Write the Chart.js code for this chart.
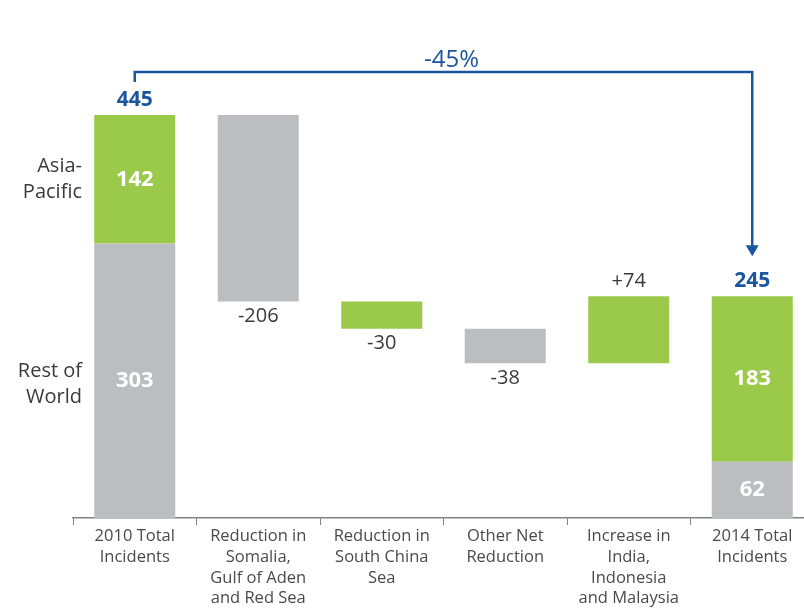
<!DOCTYPE html>
<html>
<head>
<meta charset="utf-8">
<script src="https://cdn.jsdelivr.net/npm/chart.js@4/dist/chart.umd.min.js"></script>
<style>
  html, body { margin: 0; padding: 0; background: #ffffff; overflow: hidden; }
  #wrap { width: 804px; height: 608px; overflow: hidden; position: relative; }
  canvas { display: block; }
</style>
</head>
<body>
<div id="wrap"><canvas id="c" width="814" height="608" style="width:814px;height:608px"></canvas></div>
<script>
// ---- Data ----
const categories = [
  ["2010 Total", "Incidents"],
  ["Reduction in", "Somalia,", "Gulf of Aden", "and Red Sea"],
  ["Reduction in", "South China", "Sea"],
  ["Other Net", "Reduction"],
  ["Increase in", "India,", "Indonesia", "and Malaysia"],
  ["2014 Total", "Incidents"]
];
const restOfWorld2010 = 303;
const asiaPacific2010 = 142;
const restOfWorld2014 = 62;
const asiaPacific2014 = 183;
const changes = [-206, -30, -38, 74];
const changeRegion = ["row", "ap", "row", "ap"];
const regionLabels = { ap: ["Asia-", "Pacific"], row: ["Rest of", "World"] };

// ---- Build floating bars ----
const GREEN = "#9BCA4B";
const GRAY = "#BCBDC0";
const BLUE = "#1B559E";
const TEXT = "#3a3a3a";

const total2010 = restOfWorld2010 + asiaPacific2010;
const total2014 = restOfWorld2014 + asiaPacific2014;
const grayData = [[0, restOfWorld2010]];
const greenData = [[restOfWorld2010, total2010]];
let running = total2010;
changes.forEach((c, i) => {
  const lo = Math.min(running, running + c), hi = Math.max(running, running + c);
  if (changeRegion[i] === "row") { grayData.push([lo, hi]); greenData.push(null); }
  else { greenData.push([lo, hi]); grayData.push(null); }
  running += c;
});
grayData.push([0, restOfWorld2014]);
greenData.push([restOfWorld2014, total2014]);

const FONT = "'Open Sans', 'Noto Sans', sans-serif";

const labelPlugin = {
  id: "labels",
  afterDatasetsDraw(chart) {
    const ctx = chart.ctx;
    const x = chart.scales.x, y = chart.scales.y;
    ctx.save();
    ctx.textAlign = "center";
    ctx.textBaseline = "middle";
    const n = categories.length;
    // inner segment labels
    ctx.fillStyle = "#ffffff";
    ctx.font = "bold 22px " + FONT;
    const seg = (i, lo, hi, v) => {
      ctx.fillText(String(v), x.getPixelForValue(i), (y.getPixelForValue(lo) + y.getPixelForValue(hi)) / 2);
    };
    seg(0, restOfWorld2010, total2010, asiaPacific2010);
    seg(0, 0, restOfWorld2010, restOfWorld2010);
    seg(n - 1, restOfWorld2014, total2014, asiaPacific2014);
    seg(n - 1, 0, restOfWorld2014, restOfWorld2014);
    // totals
    ctx.fillStyle = BLUE;
    ctx.font = "bold 21px " + FONT;
    ctx.fillText(String(total2010), x.getPixelForValue(0), y.getPixelForValue(total2010) - 15);
    ctx.fillText(String(total2014), x.getPixelForValue(n - 1), y.getPixelForValue(total2014) - 15);
    // change labels
    ctx.fillStyle = TEXT;
    ctx.font = "20px " + FONT;
    let r = total2010;
    changes.forEach((c, i) => {
      const xi = x.getPixelForValue(i + 1);
      const txt = (c > 0 ? "+" : "") + c;
      if (c < 0) ctx.fillText(txt, xi, y.getPixelForValue(r + c) + 15);
      else ctx.fillText(txt, xi, y.getPixelForValue(r + c) - 15);
      r += c;
    });
    // left region labels
    ctx.textAlign = "right";
    ctx.font = "20px " + FONT;
    const apMid = (y.getPixelForValue(restOfWorld2010) + y.getPixelForValue(total2010)) / 2;
    const rowMid = (y.getPixelForValue(0) + y.getPixelForValue(restOfWorld2010)) / 2 + 3;
    const lx = x.left + 9;
    ctx.fillText(regionLabels.ap[0], lx, apMid - 13);
    ctx.fillText(regionLabels.ap[1], lx, apMid + 13);
    ctx.fillText(regionLabels.row[0], lx, rowMid - 13);
    ctx.fillText(regionLabels.row[1], lx, rowMid + 13);

    // bracket with arrow
    const x0 = x.getPixelForValue(0), x1 = x.getPixelForValue(n - 1);
    const top0 = y.getPixelForValue(total2010);
    const by = top0 - 43;
    const tipY = y.getPixelForValue(total2014) - 40;
    ctx.strokeStyle = BLUE;
    ctx.lineWidth = 2.5;
    ctx.beginPath();
    ctx.moveTo(x0, by + 10);
    ctx.lineTo(x0, by);
    ctx.lineTo(x1, by);
    ctx.lineTo(x1, tipY - 10);
    ctx.stroke();
    ctx.fillStyle = BLUE;
    ctx.beginPath();
    ctx.moveTo(x1 - 6.5, tipY - 11);
    ctx.lineTo(x1 + 6.5, tipY - 11);
    ctx.lineTo(x1, tipY);
    ctx.closePath();
    ctx.fill();
    // percentage
    const pct = Math.round((total2014 - total2010) / total2010 * 100);
    ctx.textAlign = "center";
    ctx.font = "500 24px " + FONT;
    ctx.fillText((pct > 0 ? "+" : "") + pct + "%", (x0 + x1) / 2 + 8, by - 12);
    ctx.restore();
  }
};

new Chart(document.getElementById("c"), {
  type: "bar",
  data: {
    labels: categories,
    datasets: [
      { label: "Rest of World", data: grayData, backgroundColor: GRAY, borderWidth: 0, grouped: false,
        barPercentage: 0.656, categoryPercentage: 1 },
      { label: "Asia-Pacific", data: greenData, backgroundColor: GREEN, borderWidth: 0, grouped: false,
        barPercentage: 0.656, categoryPercentage: 1 }
    ]
  },
  options: {
    responsive: false,
    animation: false,
    layout: { padding: { left: 73, right: 0, top: 0, bottom: 0 } },
    plugins: { legend: { display: false }, tooltip: { enabled: false } },
    scales: {
      y: { display: false, min: 0, max: 572 },
      x: {
        grid: { offset: true, drawOnChartArea: false, drawTicks: true, tickLength: 7, color: "#808080", lineWidth: 1 },
        border: { display: true, color: "#808080", width: 1.5 },
        ticks: { color: "#4a4a4a", font: { family: FONT, size: 16.5, lineHeight: 1.26 }, padding: 1, maxRotation: 0, autoSkip: false },
        afterFit: (s) => { s.height = 90; }
      }
    }
  },
  plugins: [labelPlugin]
});
</script>
</body>
</html>
